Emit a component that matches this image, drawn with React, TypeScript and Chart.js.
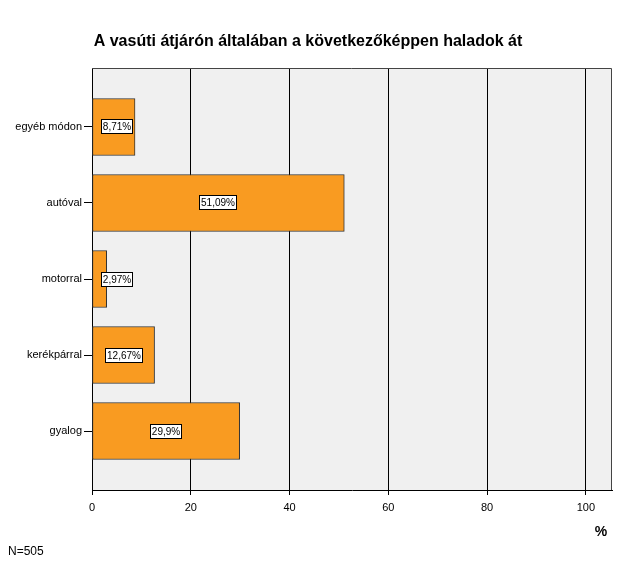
import React, { useEffect, useRef } from "react";
import { Chart, registerables } from "chart.js";

Chart.register(...registerables);

const categories = ["egyéb módon", "autóval", "motorral", "kerékpárral", "gyalog"];
const values = [8.71, 51.09, 2.97, 12.67, 29.9];
const valueLabels = ["8,71%", "51,09%", "2,97%", "12,67%", "29,9%"];
const xTicks = [0, 20, 40, 60, 80, 100];
const title = "A vasúti átjárón általában a következőképpen haladok át";
const axisTitle = "%";
const note = "N=505";

const FONT = "'Liberation Sans', Arial, sans-serif";

export default function App() {
  const ref = useRef<HTMLCanvasElement | null>(null);

  useEffect(() => {
    const canvas = ref.current;
    if (!canvas) return;

    const decor = {
      id: "decor",
      beforeDraw(chart: any) {
        const { ctx, chartArea } = chart;
        ctx.save();
        ctx.fillStyle = "#f0f0f0";
        ctx.fillRect(chartArea.left, chartArea.top, chartArea.right - chartArea.left, chartArea.bottom - chartArea.top);
        ctx.restore();
      },
      afterDatasetsDraw(chart: any) {
        const { ctx, chartArea } = chart;
        ctx.save();
        ctx.strokeStyle = "#444";
        ctx.lineWidth = 1;
        ctx.beginPath();
        ctx.moveTo(chartArea.left, chartArea.top + 0.5);
        ctx.lineTo(Math.round(chartArea.right) - 0.5, chartArea.top + 0.5);
        ctx.lineTo(Math.round(chartArea.right) - 0.5, chartArea.bottom);
        ctx.stroke();
        const meta = chart.getDatasetMeta(0);
        ctx.font = "10px " + FONT;
        ctx.textBaseline = "middle";
        ctx.textAlign = "center";
        meta.data.forEach((bar: any, i: number) => {
          const text = valueLabels[i];
          const w = Math.round(ctx.measureText(text).width + 4);
          const h = 15;
          const cx = (bar.x + bar.base) / 2;
          let left = cx - w / 2;
          if (left < chartArea.left + 9) left = chartArea.left + 9;
          left = Math.round(left);
          const top = Math.round(bar.y - h / 2);
          ctx.fillStyle = "#ffffff";
          ctx.fillRect(left, top, w, h);
          ctx.strokeStyle = "#000";
          ctx.strokeRect(left + 0.5, top + 0.5, w - 1, h - 1);
          ctx.fillStyle = "#000";
          ctx.fillText(text, left + w / 2, top + h / 2 + 0.5);
        });
        ctx.restore();
      },
      afterDraw(chart: any) {
        const { ctx } = chart;
        ctx.save();
        ctx.fillStyle = "#000";
        ctx.textBaseline = "middle";
        ctx.textAlign = "center";
        ctx.font = "bold 16px " + FONT;
        ctx.fillText(title, 308, 42);
        ctx.font = "bold 14px " + FONT;
        ctx.fillText(axisTitle, 601, 532);
        ctx.textAlign = "left";
        ctx.font = "12px " + FONT;
        ctx.fillText(note, 8, 552);
        ctx.restore();
      },
    };

    const chart = new Chart(canvas, {
      type: "bar",
      data: {
        datasets: [
          {
            data: values.map((v, i) => ({ x: v, y: i })),
            backgroundColor: "#f99b21",
            borderColor: "#333333",
            borderWidth: 1,
            borderSkipped: false,
            barThickness: 57,
          },
        ],
      },
      options: {
        indexAxis: "y",
        animation: false,
        responsive: false,
        maintainAspectRatio: false,
        layout: { padding: { left: 0, top: 68, right: 13, bottom: 0 } },
        plugins: {
          legend: { display: false },
          title: { display: false },
          tooltip: { enabled: false },
        },
        scales: {
          x: {
            type: "linear",
            min: 0,
            max: 105.3,
            offset: false,
            afterBuildTicks: (scale: any) => {
              scale.ticks = xTicks.map((v) => ({ value: v }));
            },
            afterFit: (scale: any) => {
              scale.height = 86;
            },
            ticks: {
              color: "#000",
              font: { family: FONT, size: 11 },
              padding: 6,
              maxRotation: 0,
            },
            grid: {
              color: "#000",
              lineWidth: 1,
              tickLength: 5,
              tickColor: "#000",
              drawOnChartArea: true,
              offset: false,
            },
            border: { display: true, color: "#000" },
          },
          y: {
            type: "linear",
            reverse: true,
            min: -0.776,
            max: 4.776,
            offset: false,
            afterBuildTicks: (scale: any) => {
              scale.ticks = categories.map((_, i) => ({ value: i }));
            },
            afterFit: (scale: any) => {
              scale.width = 92;
            },
            ticks: {
              color: "#000",
              font: { family: FONT, size: 11 },
              padding: 2,
              callback: (v: any) => categories[v as number] ?? "",
            },
            grid: {
              drawOnChartArea: false,
              offset: false,
              tickLength: 8,
              tickColor: "#000",
            },
            border: { display: true, color: "#000" },
          },
        },
      },
      plugins: [decor],
    } as any);

    return () => chart.destroy();
  }, []);

  return (
    <div style={{ position: "fixed", left: 0, top: 0, width: 625, height: 576, background: "#fff" }}>
      <canvas ref={ref} width={625} height={576} style={{ width: 625, height: 576, display: "block" }} />
    </div>
  );
}
